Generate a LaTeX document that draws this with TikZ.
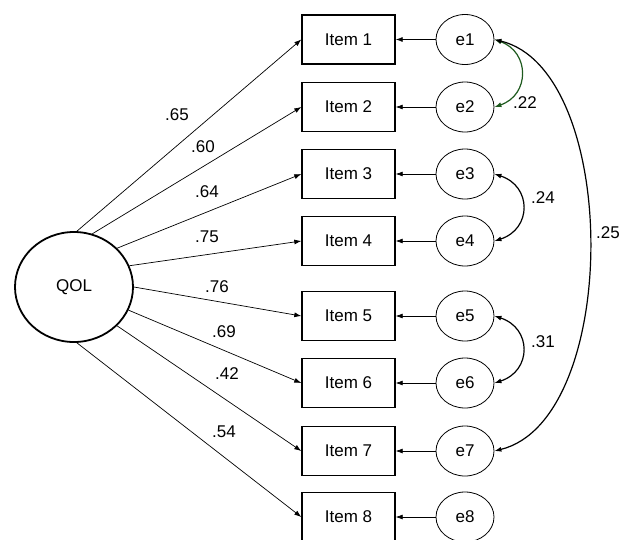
\documentclass[tikz,border=0pt]{standalone}
\usepackage{fontspec}
\setmainfont{Liberation Sans}
\usetikzlibrary{arrows.meta,shapes.geometric}
\definecolor{covgreen}{HTML}{1E5A1E}
\begin{document}
\begin{tikzpicture}[x=1pt,y=-1pt,
  every node/.style={font=\fontsize{17}{20}\selectfont},
  itembox/.style={draw, line width=1.4pt, minimum width=93pt, minimum height=49pt, inner sep=0pt},
  errnode/.style={draw, ellipse, line width=0.8pt, minimum width=58pt, minimum height=50pt, inner sep=0pt},
  latent/.style={draw, ellipse, line width=1.8pt, minimum width=118pt, minimum height=110pt, inner sep=0pt},
  tip/.style={-{Latex[length=7pt,width=5pt]}},
  loading/.style={tip, line width=0.7pt},
  cov/.style={{Latex[length=7pt,width=5pt]}-{Latex[length=7pt,width=5pt]}, line width=1.2pt},
  lbl/.style={inner sep=0pt}
]
\useasboundingbox (0,0) rectangle (621,539);
\fill[white] (0,0) rectangle (621,539);

\node[latent] (QOL) at (74,287) {QOL};

\foreach \i/\y in {1/39.5,2/107,3/174,4/241,5/316,6/383,7/451,8/517}{
  \node[itembox] (item\i) at (348.5,\y) {Item \i};
  \node[errnode] (e\i) at (465,\y) {e\i};
  \draw[loading] (e\i.west) -- (item\i.east);
}

\draw[loading] (QOL.87)  -- (item1.west);
\draw[loading] (QOL.71)  -- (item2.west);
\draw[loading] (QOL.42)  -- (item3.west);
\draw[loading] (QOL.21)  -- (item4.west);
\draw[loading] (QOL.0)   -- (item5.west);
\draw[loading] (QOL.-23) -- (item6.west);
\draw[loading] (QOL.-42) -- (item7.west);
\draw[loading] (QOL.-87) -- (item8.west);

\node[lbl] (l1) at (177,115) {.65};
\node[lbl] (l2) at (203,147) {.60};
\node[lbl] (l3) at (207,192) {.64};
\node[lbl] (l4) at (207,237) {.75};
\node[lbl] (l5) at (217,287) {.76};
\node[lbl] (l6) at (224,332) {.69};
\node[lbl] (l7) at (227,374) {.42};
\node[lbl] (l8) at (224,432) {.54};

\draw[cov, covgreen] (e1.east) .. controls (530,52) and (530,95) .. (e2.east);
\draw[cov] (e3.east) .. controls (532,186) and (532,229) .. (e4.east);
\draw[cov] (e5.east) .. controls (532,328) and (532,371) .. (e6.east);
\draw[cov] (e1.east) .. controls (621,70) and (621,420) .. (e7.east);

\node[lbl] (c12) at (525,103) {.22};
\node[lbl] (c34) at (543,198) {.24};
\node[lbl] (c56) at (543,342) {.31};
\node[lbl] (c17) at (608,233) {.25};
\end{tikzpicture}
\end{document}
